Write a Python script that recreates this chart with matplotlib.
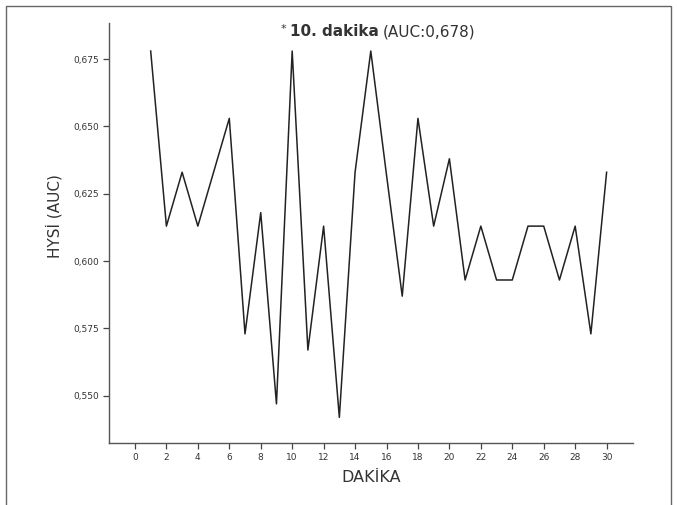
import matplotlib.pyplot as plt
from matplotlib.patches import Rectangle
import numpy as np

# dakika ve HYSİ (AUC) değerleri
dakika = list(range(1, 31))
auc = [0.678, 0.613, 0.633, 0.613, 0.633, 0.653, 0.573, 0.618, 0.547, 0.678,
       0.567, 0.613, 0.542, 0.633, 0.678, 0.632, 0.587, 0.653, 0.613, 0.638,
       0.593, 0.613, 0.593, 0.593, 0.613, 0.613, 0.593, 0.613, 0.573, 0.633]

x_ticks = list(range(0, 31, 2))
y_ticks = [0.550, 0.575, 0.600, 0.625, 0.650, 0.675]
y_tick_labels = ["0,550", "0,575", "0,600", "0,625", "0,650", "0,675"]

fig = plt.figure(figsize=(6.77, 5.05), dpi=100)
ax = fig.add_axes([0.1615, 0.1234, 0.774, 0.831])

ax.plot(dakika, auc, color="#222222", linewidth=1.1)

ax.set_xlim(-1.63, 31.7)
ax.set_ylim(0.5326, 0.6884)
ax.set_xticks(x_ticks)
ax.set_yticks(y_ticks)
ax.set_yticklabels(y_tick_labels)
ax.tick_params(axis="both", labelsize=6.5, labelcolor="#333333", length=4,
               width=0.9, color="#444444")

for s in ["top", "right"]:
    ax.spines[s].set_visible(False)
for s in ["left", "bottom"]:
    ax.spines[s].set_color("#555555")
    ax.spines[s].set_linewidth(1.0)

ax.set_xlabel("DAKİKA", fontsize=11.5, color="#333333", labelpad=6)
ax.set_ylabel("HYSİ (AUC)", fontsize=11, color="#333333")
ax.yaxis.set_label_coords(-0.09, 0.54)

title_y = 1 - 32 / 505
fig.text(283 / 677, title_y + 0.005, "*", fontsize=8, ha="center",
         va="center", color="#333333")
fig.text(290 / 677, title_y, "10. dakika", fontsize=11, fontweight="bold",
         ha="left", va="center", color="#333333")
fig.text(383 / 677, title_y, "(AUC:0,678)", fontsize=11, ha="left",
         va="center", color="#333333")

# çerçeve
fig.patches.append(Rectangle((6 / 677, -0.02), 665 / 677, 1.02 - 6 / 505,
                             transform=fig.transFigure, fill=False,
                             edgecolor="#666666", linewidth=1.0))

fig.savefig("out.png", dpi=100)
